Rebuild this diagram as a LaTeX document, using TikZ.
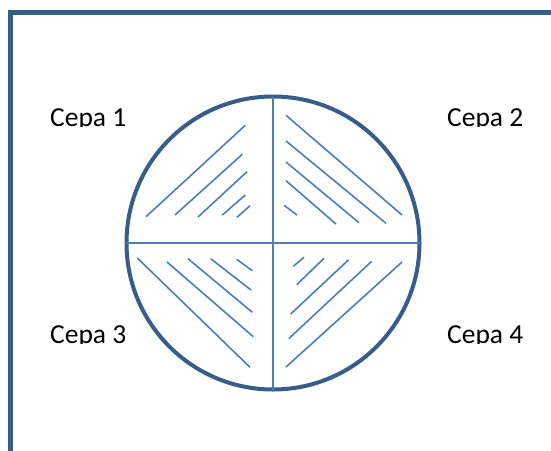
\documentclass[tikz,border=0pt]{standalone}
\usepackage{fontspec}
\setmainfont{Carlito}
\usepackage{xcolor}
\usepackage{tikz}
\usetikzlibrary{positioning,shapes.geometric}
\definecolor{outline}{HTML}{385D8A}
\definecolor{hatch}{HTML}{4A7EBB}
\tikzset{
  frameline/.style={draw=outline, line width=4.2pt},
  dishbox/.style={
    circle, draw=outline, line width=4pt,
    minimum size=293pt, inner sep=0pt, outer sep=0pt
  },
  crossline/.style={draw=hatch, line width=1.5pt},
  hatchline/.style={draw=hatch, line width=1.6pt},
  strainlabel/.style={
    anchor=base west, inner sep=0pt,
    font=\fontsize{27.5}{30}\selectfont
  },
}

\begin{document}
\begin{tikzpicture}[x=1pt, y=-1pt]
  \clip (0,0) rectangle (551,450);
  % Frame
  \draw[frameline] (10.5,470) -- (10.5,12.5) -- (570,12.5);
  % Dish
  \node[dishbox] (dish) at (273,243) {};
  \draw[crossline] (dish.north) -- (dish.south);
  \draw[crossline] (dish.west) -- (dish.east);
  % Hatching, quadrant 1
  \foreach \ax/\ay/\bx/\by in {146/216.7/245.3/125.3, 175/215/242.3/154.3,
      198/217/247/171.7, 222.3/215/245.3/195, 237/217.3/250/205.7}
    \draw[hatchline] (\ax,\ay) -- (\bx,\by);
  % Hatching, quadrant 2
  \foreach \ax/\ay/\bx/\by in {286/115.3/402/215, 286/141/386/223.3,
      286/162/359/222.7, 286/180.7/336/224, 284/205.3/297/215}
    \draw[hatchline] (\ax,\ay) -- (\bx,\by);
  % Hatching, quadrant 3
  \foreach \ax/\ay/\bx/\by in {137.3/258/250/367.3, 167/262/253.3/336.7,
      188/258.7/252.3/312.3, 210.7/258.7/251/290, 236.7/259.3/252.3/270.7}
    \draw[hatchline] (\ax,\ay) -- (\bx,\by);
  % Hatching, quadrant 4
  \foreach \ax/\ay/\bx/\by in {293.3/266.3/304/257.3, 296.7/284.7/324/258.3,
      290.7/314/348.7/259.7, 288.7/338.7/371.7/261.3, 286/367/402/262}
    \draw[hatchline] (\ax,\ay) -- (\bx,\by);
  % Labels (cut off at the bottom)
  \begin{scope}
    \clip (0,0) rectangle (551,126.5);
    \node[strainlabel] (cepa1) at (50,126) {Cepa 1};
    \node[strainlabel] (cepa2) at (447,126) {Cepa 2};
  \end{scope}
  \begin{scope}
    \clip (0,300) rectangle (551,343.5);
    \node[strainlabel] (cepa3) at (50,343) {Cepa 3};
    \node[strainlabel] (cepa4) at (447,343) {Cepa 4};
  \end{scope}
\end{tikzpicture}
\end{document}
